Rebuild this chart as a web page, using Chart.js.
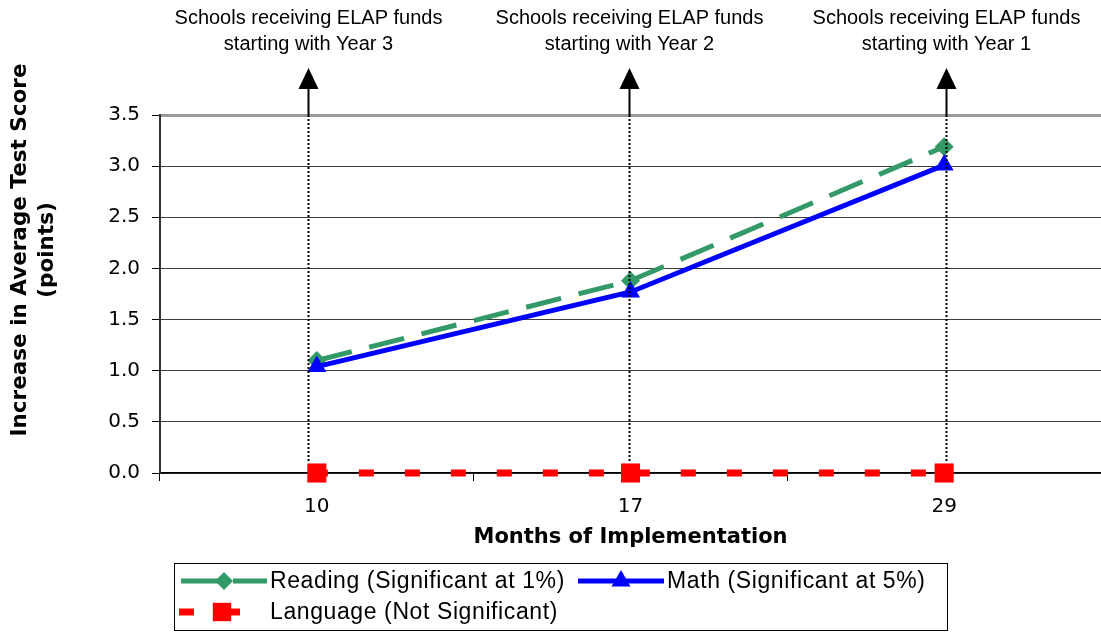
<!DOCTYPE html>
<html lang="en">
<head>
<meta charset="UTF-8">
<title>ELAP test score gains</title>
<script src="https://cdn.jsdelivr.net/npm/chart.js"></script>
<style>
  html, body { margin: 0; padding: 0; background: #fff; overflow: hidden; }
  #wrap { width: 1101px; height: 632px; }
</style>
</head>
<body>
<div id="wrap"><canvas id="scoreChart" width="1101" height="632"></canvas></div>
<script>
// months of implementation (x categories)
const months = ['10', '17', '29'];
// increase in average test score, points
const reading = [1.10, 1.88, 3.19];
const math = [1.04, 1.77, 3.01];
const language = [0, 0, 0];
const yTicks = [0, 0.5, 1.0, 1.5, 2.0, 2.5, 3.0, 3.5];
const seriesNames = ['Reading (Significant at 1%)', 'Math (Significant at 5%)', 'Language (Not Significant)'];
const fundingNotes = [
  ['Schools receiving ELAP funds', 'starting with Year 3'],
  ['Schools receiving ELAP funds', 'starting with Year 2'],
  ['Schools receiving ELAP funds', 'starting with Year 1']
];

const GREEN = '#339966', BLUE = '#0000ff', RED = '#ff0000';
const noPadding = () => ({ left: 0, right: 0, top: 0, bottom: 0 });

function marker(ctx, style, x, y, r, color) {
  ctx.save();
  ctx.setLineDash([]);
  ctx.fillStyle = color;
  ctx.beginPath();
  if (style === 'rectRot') {
    ctx.moveTo(x, y - r); ctx.lineTo(x + r, y); ctx.lineTo(x, y + r); ctx.lineTo(x - r, y);
  } else if (style === 'triangle') {
    const h = r * Math.sqrt(3) / 2;
    ctx.moveTo(x, y - r); ctx.lineTo(x + h, y + r / 2); ctx.lineTo(x - h, y + r / 2);
  } else {
    const s = r * Math.SQRT1_2;
    ctx.rect(x - s, y - s, 2 * s, 2 * s);
  }
  ctx.closePath();
  ctx.fill();
  ctx.restore();
}

const overlay = {
  id: 'overlay',
  afterDatasetsDraw(chart) {
    const {ctx, chartArea, scales: {x, y}} = chart;
    const nudge = [-9, -2, 2];
    ctx.save();
    fundingNotes.forEach((lines, i) => {
      const px = Math.round(x.getPixelForValue(i) + nudge[i]) + 0.5;
      ctx.fillStyle = '#000';
      ctx.font = '20px "Liberation Sans", Arial, sans-serif';
      ctx.textAlign = 'center';
      ctx.textBaseline = 'middle';
      ctx.fillText(lines[0], px, 18);
      ctx.fillText(lines[1], px, 44);
      // arrow head
      ctx.beginPath();
      ctx.moveTo(px, 68); ctx.lineTo(px + 10, 89); ctx.lineTo(px - 10, 89);
      ctx.closePath();
      ctx.fill();
      // shaft
      ctx.strokeStyle = '#000';
      ctx.lineWidth = 2;
      ctx.setLineDash([]);
      ctx.beginPath();
      ctx.moveTo(px, 88); ctx.lineTo(px, chartArea.top);
      ctx.stroke();
      ctx.setLineDash([2, 2]);
      ctx.beginPath();
      ctx.moveTo(px, chartArea.top); ctx.lineTo(px, y.getPixelForValue(0) - 12);
      ctx.stroke();
    });
    ctx.restore();
  },
  afterDraw(chart) {
    const ctx = chart.ctx;
    ctx.save();
    // y axis title (sits above the axis centre in the original)
    ctx.fillStyle = '#000';
    ctx.font = 'bold 21.5px "DejaVu Sans", Verdana, sans-serif';
    ctx.textAlign = 'center';
    ctx.textBaseline = 'middle';
    [['Increase in Average Test Score', 20], ['(points)', 47]].forEach(([t, cx]) => {
      ctx.save();
      ctx.translate(cx, 250);
      ctx.rotate(-Math.PI / 2);
      ctx.fillText(t, 0, 0);
      ctx.restore();
    });

    // legend
    ctx.strokeStyle = '#000';
    ctx.lineWidth = 1;
    ctx.strokeRect(174.5, 563.5, 773, 67);
    const items = [
      {x: 181, y: 581, color: GREEN, dash: [43, 9], width: 5, shape: 'rectRot', r: 9},
      {x: 578, y: 581, color: BLUE, dash: [], width: 5, shape: 'triangle', r: 11},
      {x: 179, y: 612, color: RED, dash: [15, 31], width: 7, shape: 'rect', r: 13}
    ];
    ctx.font = '23px "Liberation Sans", Arial, sans-serif';
    if ('letterSpacing' in ctx) ctx.letterSpacing = '0.6px';
    items.forEach((it, i) => {
      ctx.strokeStyle = it.color;
      ctx.lineWidth = it.width;
      ctx.setLineDash(it.dash);
      ctx.beginPath();
      ctx.moveTo(it.x, it.y); ctx.lineTo(it.x + 86, it.y);
      ctx.stroke();
      marker(ctx, it.shape, it.x + 43, it.y, it.r, it.color);
      ctx.fillStyle = '#000';
      ctx.textAlign = 'left';
      ctx.textBaseline = 'middle';
      ctx.fillText(seriesNames[i], it.x + (i === 2 ? 91 : 89), it.y + 1);
    });
    ctx.restore();
  }
};

Chart.defaults.font.family = '"DejaVu Sans", Verdana, sans-serif';
Chart.defaults.color = '#000';

new Chart(document.getElementById('scoreChart'), {
  type: 'line',
  data: {
    labels: months,
    datasets: [
      {
        label: seriesNames[0], data: reading, order: 3,
        borderColor: GREEN, backgroundColor: GREEN, borderWidth: 5, borderDash: [36, 18],
        pointStyle: 'rectRot', pointRadius: 9.5, pointBorderWidth: 0, tension: 0, clip: false
      },
      {
        label: seriesNames[1], data: math, order: 2,
        borderColor: BLUE, backgroundColor: BLUE, borderWidth: 5,
        pointStyle: 'triangle', pointRadius: 11, pointBorderWidth: 0, tension: 0, clip: false
      },
      {
        label: seriesNames[2], data: language, order: 1,
        borderColor: RED, backgroundColor: RED, borderWidth: 7, borderDash: [15, 31], borderDashOffset: 4,
        borderCapStyle: 'butt',
        pointStyle: 'rect', pointRadius: 13.5, pointBorderWidth: 0, tension: 0, clip: false
      }
    ]
  },
  options: {
    responsive: false,
    animation: false,
    devicePixelRatio: 1,
    layout: { padding: { top: 115, bottom: 82, left: 0, right: 0 }, autoPadding: false },
    plugins: { legend: { display: false }, tooltip: { enabled: false } },
    scales: {
      x: {
        type: 'category',
        offset: true,
        afterFit: s => { s.height = 77; s.paddingLeft = 0; s.paddingRight = 0; s.getPadding = noPadding; },
        grid: { offset: true, drawOnChartArea: false, drawTicks: true, tickLength: 8, color: '#000', lineWidth: 1 },
        border: { color: '#000', width: 1.5 },
        ticks: { font: { size: 20 }, color: '#000', padding: 14, maxRotation: 0 },
        title: {
          display: true, text: 'Months of Implementation', color: '#000',
          font: { size: 21, weight: 'bold' }, padding: { top: 0, bottom: 0 }
        }
      },
      y: {
        min: yTicks[0],
        max: yTicks[yTicks.length - 1],
        afterFit: s => { s.width = 160; s.getPadding = noPadding; },
        afterBuildTicks: s => { s.ticks = yTicks.map(v => ({ value: v })); },
        grid: {
          color: c => (c.tick && c.tick.value === 3.5 ? '#9a9a9a' : '#3c3c3c'),
          lineWidth: c => (c.tick && c.tick.value === 3.5 ? 3 : 1),
          tickColor: '#000', tickWidth: 1, tickLength: 8
        },
        border: { color: '#333', width: 2 },
        ticks: { font: { size: 20 }, color: '#000', padding: 12, callback: v => Number(v).toFixed(1) }
      }
    }
  },
  plugins: [overlay]
});
</script>
</body>
</html>
